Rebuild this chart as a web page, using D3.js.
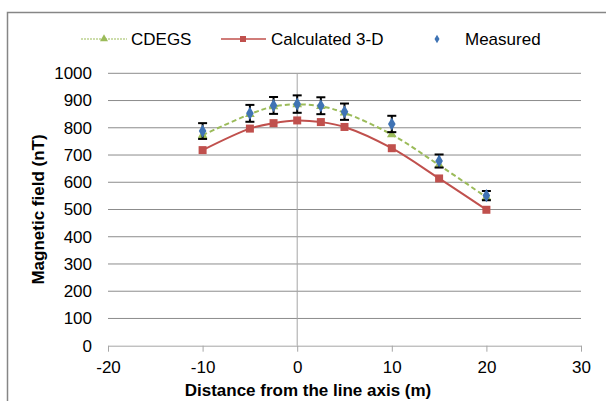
<!DOCTYPE html>
<html>
<head>
<meta charset="utf-8">
<script src="https://cdn.jsdelivr.net/npm/d3@7"></script>
<style>
  body { margin: 0; background: #fff; }
  svg text { font-family: "Liberation Sans", Arial, sans-serif; fill: #000; }
  .tick text { font-size: 17px; }
  .grid line { stroke: #8c8c8c; stroke-width: 1; }
  .x.axis path, .x.axis line { stroke: #a6a6a6; }
</style>
</head>
<body>
<svg id="chart" width="606" height="401"></svg>
<script>
// distance from the line axis (m)
var distance = [-10, -5, -2.5, 0, 2.5, 5, 10, 15, 20];
var cdegs = [773, 850, 878, 886, 879, 855, 775, 663, 545];
var calculated = [718, 797, 817, 827, 821, 803, 725, 614, 499];
var measured = [788, 853, 882, 887, 881, 859, 814, 678, 551];
var measuredErr = [29, 31, 31, 32, 31, 30, 30, 24, 17];
var xTicks = [-20, -10, 0, 10, 20, 30];
var yTicks = [0, 100, 200, 300, 400, 500, 600, 700, 800, 900, 1000];

var green = "#9bbb59", red = "#c0504d", blue = "#3f73b4";

var svg = d3.select("#chart");
var plotLeft = 108, plotRight = 581, plotTop = 73.3, plotBottom = 345.7;

var x = d3.scaleLinear().domain([-20, 30]).range([plotLeft, plotRight]);
var y = d3.scaleLinear().domain([0, 1000]).range([plotBottom, plotTop]);

// chart frame
svg.append("rect")
  .attr("x", 7.5).attr("y", 12.5)
  .attr("width", 700).attr("height", 500)
  .attr("fill", "none").attr("stroke", "#868686").attr("stroke-width", 1.5);

// gridlines
svg.append("g").attr("class", "grid")
  .selectAll("line").data(yTicks.slice(1)).enter().append("line")
  .attr("x1", plotLeft).attr("x2", plotRight)
  .attr("y1", function (d) { return y(d); })
  .attr("y2", function (d) { return y(d); });

// vertical axis line at x = 0
svg.append("line")
  .attr("x1", x(0)).attr("x2", x(0))
  .attr("y1", y(1000)).attr("y2", y(0))
  .attr("stroke", "#a6a6a6");

// axes
svg.append("g").attr("class", "x axis")
  .attr("transform", "translate(0," + plotBottom + ")")
  .call(d3.axisBottom(x).tickValues(xTicks).tickFormat(String)
    .tickSize(6).tickPadding(9).tickSizeOuter(0));

svg.append("g").attr("class", "y axis")
  .attr("transform", "translate(" + plotLeft + ",0)")
  .call(d3.axisLeft(y).tickValues(yTicks).tickFormat(String).tickSize(0).tickPadding(16))
  .call(function (g) { g.select(".domain").remove(); });

// axis titles
svg.append("text")
  .attr("x", 308).attr("y", 396)
  .attr("text-anchor", "middle")
  .style("font-size", "17px").style("font-weight", "bold")
  .text("Distance from the line axis (m)");

svg.append("text")
  .attr("transform", "translate(44," + (plotTop + plotBottom) / 2 + ") rotate(-90)")
  .attr("text-anchor", "middle")
  .style("font-size", "17px").style("font-weight", "bold")
  .text("Magnetic field (nT)");

var pts = function (vals) {
  return distance.map(function (d, i) { return [d, vals[i]]; });
};
var line = d3.line()
  .x(function (d) { return x(d[0]); })
  .y(function (d) { return y(d[1]); })
  .curve(d3.curveCatmullRom);

// Calculated 3-D
svg.append("path").datum(pts(calculated))
  .attr("d", line).attr("fill", "none")
  .attr("stroke", red).attr("stroke-width", 2);
svg.append("g").selectAll("rect").data(pts(calculated)).enter().append("rect")
  .attr("x", function (d) { return x(d[0]) - 4; })
  .attr("y", function (d) { return y(d[1]) - 4; })
  .attr("width", 8).attr("height", 8)
  .attr("fill", red);

// CDEGS
svg.append("path").datum(pts(cdegs))
  .attr("d", line).attr("fill", "none")
  .attr("stroke", green).attr("stroke-width", 2).attr("stroke-dasharray", "5,3");
var tri = d3.symbol().type(d3.symbolTriangle).size(40);
svg.append("g").selectAll("path").data(pts(cdegs)).enter().append("path")
  .attr("d", tri)
  .attr("transform", function (d) { return "translate(" + x(d[0]) + "," + y(d[1]) + ")"; })
  .attr("fill", green);

// Measured with error bars
var err = svg.append("g").attr("stroke", "#000").attr("stroke-width", 2)
  .selectAll("g").data(pts(measured)).enter().append("g");
err.append("line")
  .attr("x1", function (d) { return x(d[0]); })
  .attr("x2", function (d) { return x(d[0]); })
  .attr("y1", function (d, i) { return y(d[1] + measuredErr[i]); })
  .attr("y2", function (d, i) { return y(d[1] - measuredErr[i]); });
err.append("line")
  .attr("x1", function (d) { return x(d[0]) - 4.5; })
  .attr("x2", function (d) { return x(d[0]) + 4.5; })
  .attr("y1", function (d, i) { return y(d[1] + measuredErr[i]); })
  .attr("y2", function (d, i) { return y(d[1] + measuredErr[i]); });
err.append("line")
  .attr("x1", function (d) { return x(d[0]) - 4.5; })
  .attr("x2", function (d) { return x(d[0]) + 4.5; })
  .attr("y1", function (d, i) { return y(d[1] - measuredErr[i]); })
  .attr("y2", function (d, i) { return y(d[1] - measuredErr[i]); });

var diamond = d3.symbol().type(d3.symbolDiamond).size(50);
svg.append("g").selectAll("path").data(pts(measured)).enter().append("path")
  .attr("d", diamond)
  .attr("transform", function (d) { return "translate(" + x(d[0]) + "," + y(d[1]) + ")"; })
  .attr("fill", blue);

// legend
var legY = 39;
var legend = svg.append("g");
legend.append("line").attr("x1", 81).attr("x2", 127).attr("y1", legY).attr("y2", legY)
  .attr("stroke", green).attr("stroke-width", 1).attr("stroke-dasharray", "2,1");
legend.append("path").attr("d", d3.symbol().type(d3.symbolTriangle).size(28))
  .attr("transform", "translate(104," + legY + ")").attr("fill", green);
legend.append("text").attr("x", 131).attr("y", legY).attr("dy", "0.36em")
  .style("font-size", "17px").text("CDEGS");

legend.append("line").attr("x1", 221).attr("x2", 266).attr("y1", legY).attr("y2", legY)
  .attr("stroke", red).attr("stroke-width", 1.5);
legend.append("rect").attr("x", 240).attr("y", legY - 3).attr("width", 6).attr("height", 6)
  .attr("fill", red);
legend.append("text").attr("x", 271).attr("y", legY).attr("dy", "0.36em")
  .style("font-size", "17px").text("Calculated 3-D");

legend.append("path").attr("d", d3.symbol().type(d3.symbolDiamond).size(22))
  .attr("transform", "translate(437," + legY + ")").attr("fill", blue);
legend.append("text").attr("x", 465).attr("y", legY).attr("dy", "0.36em")
  .style("font-size", "17px").text("Measured");
</script>
</body>
</html>
